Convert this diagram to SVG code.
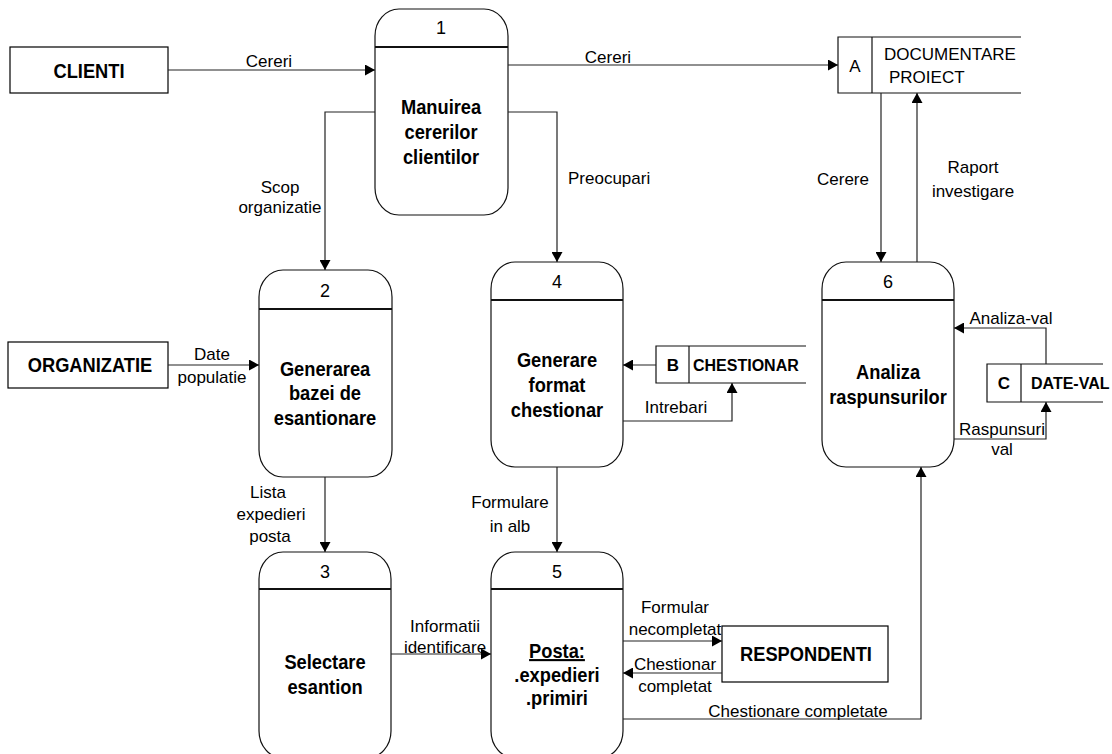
<svg xmlns="http://www.w3.org/2000/svg" width="1112" height="754" viewBox="0 0 1112 754">
  <style>
    text { font-family: "Liberation Sans", Arial, sans-serif; fill: #000; }
    /* bold names are set tall and narrow */
    .ent, .proc { font-size: 21px; font-weight: bold; text-anchor: middle;
                  transform-box: fill-box; transform-origin: center; transform: scaleX(0.87); }
    .num { font-size: 18px; text-anchor: middle; }
    .lbl { font-size: 17px; text-anchor: middle; }
    .lbl-s { font-size: 17px; }
    .sid { font-size: 17px; font-weight: bold; text-anchor: middle; }
    .sname { font-size: 16px; font-weight: bold; }
    .box { fill: #fff; stroke: #000; stroke-width: 1.2; }
    .shape { fill: #fff; stroke: #111; stroke-width: 1.2; }
    .div { stroke: #111; stroke-width: 2; }
    .store { fill: none; stroke: #111; stroke-width: 1.2; }
    .flow { fill: none; stroke: #222; stroke-width: 1.2; marker-end: url(#arrow); }
  </style>
  <defs>
    <marker id="arrow" markerUnits="userSpaceOnUse" markerWidth="11" markerHeight="11" refX="10" refY="5.5" orient="auto">
      <path d="M0,0 L10,5.5 L0,11 Z" fill="#000"/>
    </marker>
  </defs>

  <rect width="1112" height="754" fill="#fff"/>

  <!-- external entities -->
  <g id="clienti">
    <rect class="box" x="10" y="47" width="158" height="46"/>
    <text class="ent" x="89" y="78">CLIENTI</text>
  </g>
  <g id="organizatie">
    <rect class="box" x="8" y="342" width="160" height="46"/>
    <text class="ent" x="90" y="372">ORGANIZATIE</text>
  </g>
  <g id="respondenti">
    <rect class="box" x="722" y="626" width="166" height="56"/>
    <text class="ent" x="806" y="661">RESPONDENTI</text>
  </g>

  <!-- processes -->
  <g id="p1">
    <rect class="shape" x="375" y="9" width="133" height="206" rx="24" ry="27"/>
    <line class="div" x1="375" y1="47" x2="508" y2="47"/>
    <text class="num" x="441" y="34">1</text>
    <text class="proc" x="441" y="114">Manuirea</text>
    <text class="proc" x="441" y="139">cererilor</text>
    <text class="proc" x="441" y="164">clientilor</text>
  </g>
  <g id="p2">
    <rect class="shape" x="259" y="270" width="133" height="207" rx="24" ry="27"/>
    <line class="div" x1="259" y1="309" x2="392" y2="309"/>
    <text class="num" x="325" y="297">2</text>
    <text class="proc" x="325" y="376">Generarea</text>
    <text class="proc" x="325" y="400">bazei de</text>
    <text class="proc" x="325" y="425">esantionare</text>
  </g>
  <g id="p3">
    <rect class="shape" x="259" y="552" width="132" height="206" rx="24" ry="27"/>
    <line class="div" x1="259" y1="589" x2="391" y2="589"/>
    <text class="num" x="325" y="578">3</text>
    <text class="proc" x="325" y="669">Selectare</text>
    <text class="proc" x="325" y="694">esantion</text>
  </g>
  <g id="p4">
    <rect class="shape" x="491" y="262" width="132" height="205" rx="24" ry="27"/>
    <line class="div" x1="491" y1="300" x2="623" y2="300"/>
    <text class="num" x="557" y="288">4</text>
    <text class="proc" x="557" y="367">Generare</text>
    <text class="proc" x="557" y="392">format</text>
    <text class="proc" x="557" y="417">chestionar</text>
  </g>
  <g id="p5">
    <rect class="shape" x="491" y="552" width="132" height="206" rx="24" ry="27"/>
    <line class="div" x1="491" y1="589" x2="623" y2="589"/>
    <text class="num" x="557" y="578">5</text>
    <text class="proc" x="557" y="658" text-decoration="underline">Posta:</text>
    <text class="proc" x="557" y="682">.expedieri</text>
    <text class="proc" x="557" y="705">.primiri</text>
  </g>
  <g id="p6">
    <rect class="shape" x="822" y="262" width="132" height="205" rx="24" ry="27"/>
    <line class="div" x1="822" y1="300" x2="954" y2="300"/>
    <text class="num" x="888" y="288">6</text>
    <text class="proc" x="888" y="379">Analiza</text>
    <text class="proc" x="888" y="404">raspunsurilor</text>
  </g>

  <!-- data stores -->
  <g id="store-a">
    <path class="store" d="M1021,37 H838 V93 H1021 M872,37 V93"/>
    <text class="lbl" x="855" y="72">A</text>
    <text class="lbl-s" x="884" y="60">DOCUMENTARE</text>
    <text class="lbl-s" x="889" y="83">PROIECT</text>
  </g>
  <g id="store-b">
    <path class="store" d="M806,346 H656 V383 H806 M689,346 V383"/>
    <text class="sid" x="673" y="371">B</text>
    <text class="sname" x="693" y="371">CHESTIONAR</text>
  </g>
  <g id="store-c">
    <path class="store" d="M1103,364 H987 V402 H1103 M1021,364 V402"/>
    <text class="sid" x="1004" y="389">C</text>
    <text class="sname" x="1031" y="389">DATE-VAL</text>
  </g>

  <!-- data flows -->
  <g id="flows">
    <path class="flow" d="M168,70 H375"/>
    <path class="flow" d="M508,65 H838"/>
    <path class="flow" d="M375,112 H325 V270"/>
    <path class="flow" d="M508,112 H557 V262"/>
    <path class="flow" d="M881,93 V262"/>
    <path class="flow" d="M917,262 V93"/>
    <path class="flow" d="M168,365 H259"/>
    <path class="flow" d="M325,477 V552"/>
    <path class="flow" d="M656,365 H623"/>
    <path class="flow" d="M623,421 H732 V383"/>
    <path class="flow" d="M557,467 V552"/>
    <path class="flow" d="M391,654 H491"/>
    <path class="flow" d="M623,641 H722"/>
    <path class="flow" d="M722,673 H623"/>
    <path class="flow" d="M623,719 H921 V467"/>
    <path class="flow" d="M1046,364 V328 H954"/>
    <path class="flow" d="M954,439 H1046 V402"/>

    <text class="lbl" x="269" y="67">Cereri</text>
    <text class="lbl" x="608" y="63">Cereri</text>
    <text class="lbl" x="280" y="193">Scop</text>
    <text class="lbl" x="280" y="213">organizatie</text>
    <text class="lbl-s" x="568" y="184">Preocupari</text>
    <text class="lbl" x="843" y="185">Cerere</text>
    <text class="lbl" x="973" y="173">Raport</text>
    <text class="lbl" x="973" y="197">investigare</text>
    <text class="lbl" x="212" y="360">Date</text>
    <text class="lbl" x="212" y="383">populatie</text>
    <text class="lbl" x="268" y="498">Lista</text>
    <text class="lbl" x="271" y="520">expedieri</text>
    <text class="lbl" x="270" y="542">posta</text>
    <text class="lbl" x="676" y="413">Intrebari</text>
    <text class="lbl" x="510" y="508">Formulare</text>
    <text class="lbl" x="510" y="532">in alb</text>
    <text class="lbl" x="445" y="632">Informatii</text>
    <text class="lbl" x="445" y="653">identificare</text>
    <text class="lbl" x="675" y="613">Formular</text>
    <text class="lbl" x="675" y="635">necompletat</text>
    <text class="lbl" x="675" y="670">Chestionar</text>
    <text class="lbl" x="675" y="692">completat</text>
    <text class="lbl" x="798" y="717">Chestionare completate</text>
    <text class="lbl" x="1011" y="324">Analiza-val</text>
    <text class="lbl" x="1002" y="435">Raspunsuri</text>
    <text class="lbl" x="1002" y="455">val</text>
  </g>
</svg>
